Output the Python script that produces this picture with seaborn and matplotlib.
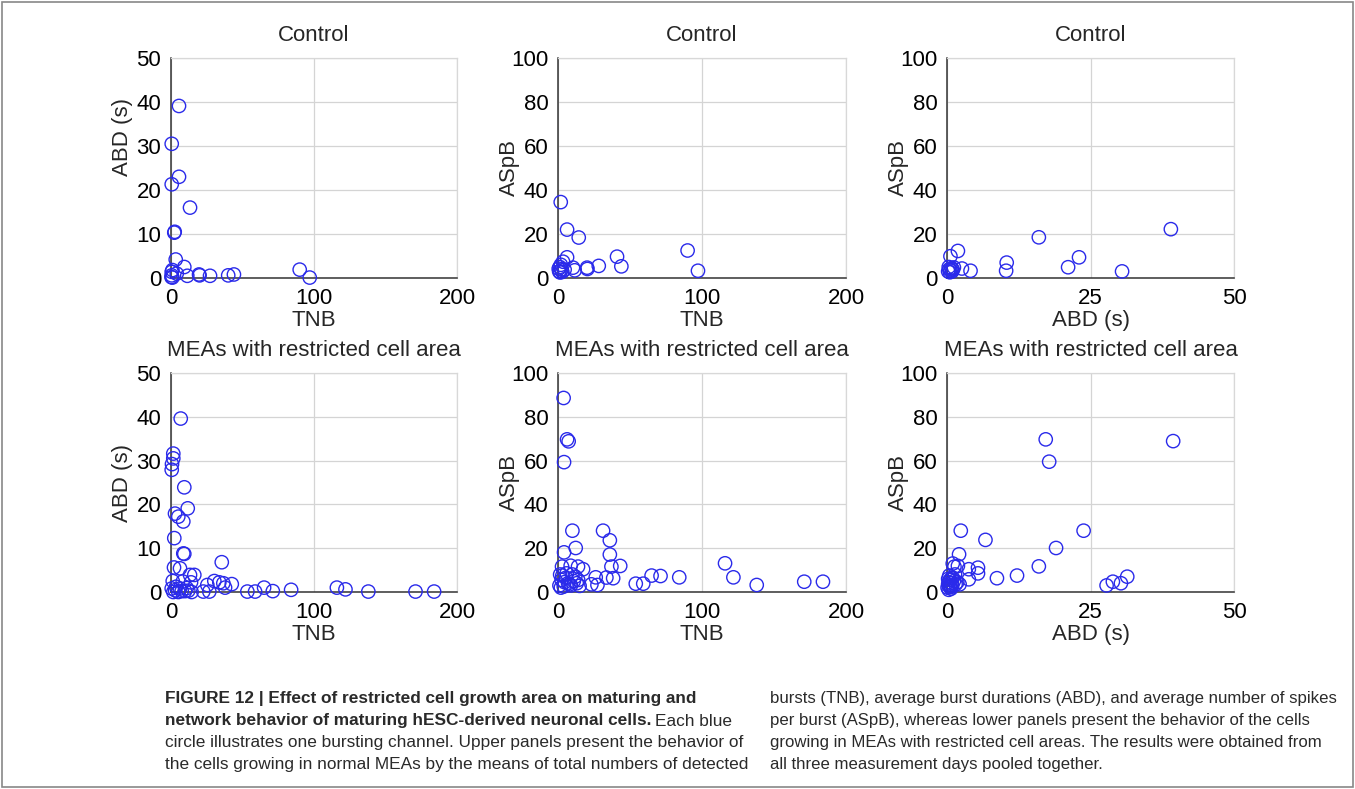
import matplotlib
matplotlib.use("Agg")
import matplotlib.pyplot as plt
import matplotlib.patches as mpatches
import seaborn as sns
import pandas as pd

# ---------------- data ----------------
# Control: TNB vs ABD
c_tnb_abd_x = [5.6, 0.5, 5.6, 0.5, 13.3, 2.3, 2.6, 3.3, 9.3, 0.5, 1.0, 4.0, 0.3, 1.0, 0.5,
               11.4, 19.6, 20.0, 27.3, 40.0, 44.0, 90.0, 97.0]
c_tnb_abd_y = [39.1, 30.5, 23.0, 21.3, 16.0, 10.3, 10.5, 4.2, 2.5, 1.4, 1.8, 1.0, 0.2, 0.1, 0.6,
               0.5, 0.8, 0.6, 0.5, 0.6, 0.8, 1.9, 0.1]
# Control: TNB vs ASpB
c_tnb_aspb_x = [1.9, 6.3, 14.4, 6.3, 3.5, 1.2, 2.3, 4.6, 10.4, 11.6, 20.2, 20.4, 28.3, 41.0,
                44.0, 90.0, 97.2, 0.8, 1.5, 3.0, 0.5, 2.0]
c_tnb_aspb_y = [34.5, 22.0, 18.4, 9.4, 7.4, 5.0, 3.8, 3.8, 4.7, 3.5, 4.7, 4.1, 5.5, 9.7,
                5.3, 12.5, 3.3, 3.0, 2.5, 2.8, 4.2, 6.0]
# Control: ABD vs ASpB
c_abd_aspb_x = [39.0, 16.0, 30.5, 23.0, 21.1, 10.4, 10.3, 1.9, 0.6, 2.6, 4.1, 0.2, 0.4, 0.6,
                0.8, 1.0, 0.3, 1.2, 0.5, 0.9]
c_abd_aspb_y = [22.2, 18.5, 3.0, 9.4, 4.9, 7.0, 3.3, 12.3, 9.9, 4.3, 3.3, 3.0, 4.0, 3.5,
                4.5, 3.8, 5.0, 4.8, 2.6, 3.0]

# Restricted: TNB vs ABD
r_tnb_abd_x = [6.8, 1.6, 1.6, 0.7, 0.5, 9.3, 11.7, 2.8, 5.1, 8.6, 2.3, 8.6, 9.3, 2.1, 6.3,
               35.5, 13.3, 16.3, 1.2, 8.2, 14.0, 30.3, 33.8, 36.6, 42.5, 25.4, 37.8, 22.6,
               26.8, 53.4, 58.8, 65.1, 71.2, 84.0, 116.0, 122.0, 138.0, 171.0, 184.0,
               0.5, 2.8, 5.1, 7.5, 9.8, 12.1, 14.4, 1.6, 6.3, 3.5, 11.0]
r_tnb_abd_y = [39.6, 31.6, 30.5, 29.2, 27.9, 23.9, 19.1, 17.9, 17.2, 16.1, 12.3, 8.8, 8.7,
               5.6, 5.4, 6.8, 3.9, 3.9, 2.5, 2.4, 2.2, 2.5, 2.2, 2.0, 1.8, 1.6, 1.0, 0.1,
               0.1, 0.1, 0.1, 1.0, 0.2, 0.5, 1.0, 0.6, 0.1, 0.1, 0.1,
               0.8, 0.4, 0.0, 0.2, 0.2, 0.3, 0.0, 0.0, 0.8, 1.2, 0.9]
# Restricted: TNB vs ASpB
r_tnb_aspb_x = [3.9, 6.3, 7.4, 4.2, 10.0, 31.3, 36.0, 4.2, 12.3, 36.0, 37.1, 43.2, 2.8, 8.8,
                13.9, 17.4, 33.6, 38.3, 26.2, 23.2, 27.4, 54.0, 59.2, 65.0, 71.2, 84.2,
                116.0, 121.8, 138.0, 171.0, 184.0,
                1.0, 2.5, 4.0, 5.5, 7.0, 9.0, 11.0, 13.0, 15.0, 1.5, 3.0, 6.0, 8.0, 12.0,
                2.0, 4.5, 10.0, 14.0]
r_tnb_aspb_y = [88.6, 69.7, 68.8, 59.3, 28.0, 28.0, 23.6, 18.1, 20.1, 17.1, 11.6, 11.9, 11.6,
                12.0, 11.6, 10.4, 6.6, 6.3, 6.7, 3.5, 3.2, 3.8, 3.8, 7.5, 7.3, 6.7,
                13.1, 6.7, 3.2, 4.7, 4.7,
                3.0, 5.5, 2.5, 6.5, 4.0, 3.0, 5.0, 4.0, 2.8, 8.0, 7.5, 8.5, 3.5, 7.0,
                2.0, 4.5, 8.0, 5.5]
# Restricted: ABD vs ASpB
r_abd_aspb_x = [39.4, 17.2, 17.8, 23.8, 2.4, 6.7, 19.0, 2.1, 16.0, 1.0, 1.3, 1.9, 3.8, 5.4,
                5.4, 3.8, 8.7, 12.2, 27.8, 28.9, 30.3, 31.4, 2.2, 0.8,
                0.1, 0.2, 0.3, 0.4, 0.5, 0.6, 0.8, 1.0, 1.2, 1.5, 0.2, 0.4, 0.7, 1.4, 1.8,
                0.3, 0.6, 0.9]
r_abd_aspb_y = [68.9, 69.7, 59.5, 28.0, 28.0, 23.8, 20.1, 17.2, 11.7, 13.0, 11.6, 11.9, 10.4,
                11.1, 8.5, 5.8, 6.3, 7.5, 3.0, 4.7, 4.0, 7.0, 3.5, 6.3,
                2.0, 3.5, 4.5, 2.5, 5.5, 3.0, 4.0, 6.5, 5.0, 3.5, 6.0, 7.5, 1.5, 8.0, 4.5,
                1.0, 2.2, 3.0]

titles = ["Control", "Control", "Control",
          "MEAs with restricted cell area", "MEAs with restricted cell area",
          "MEAs with restricted cell area"]
x_labels = ["TNB", "TNB", "ABD (s)", "TNB", "TNB", "ABD (s)"]
y_labels = ["ABD (s)", "ASpB", "ASpB", "ABD (s)", "ASpB", "ASpB"]

# ---------------- style ----------------
sns.set_theme(style="white")
plt.rcParams["font.family"] = ["Liberation Sans", "DejaVu Sans"]

W, H = 1355, 789
fig = plt.figure(figsize=(W / 100, H / 100), dpi=100)

panel_data = [
    (c_tnb_abd_x, c_tnb_abd_y), (c_tnb_aspb_x, c_tnb_aspb_y), (c_abd_aspb_x, c_abd_aspb_y),
    (r_tnb_abd_x, r_tnb_abd_y), (r_tnb_aspb_x, r_tnb_aspb_y), (r_abd_aspb_x, r_abd_aspb_y),
]
lefts = [171, 558, 947]
widths = [286, 288, 287]
tops = [58, 373]
bottoms = [278, 592]
ylabel_y = [0.64, 0.5, 0.5, 0.5, 0.5, 0.5]

for i, (xs, ys) in enumerate(panel_data):
    row, col = divmod(i, 3)
    l = lefts[col] / W
    w = widths[col] / W
    b = 1 - bottoms[row] / H
    h = (bottoms[row] - tops[row]) / H
    ax = fig.add_axes([l, b, w, h])
    df = pd.DataFrame({"x": xs, "y": ys})
    sns.scatterplot(data=df, x="x", y="y", ax=ax, marker="o", s=92,
                    facecolors="none", edgecolor="#2a2aea", linewidth=1.0,
                    zorder=3, clip_on=False)
    if x_labels[i] == "TNB":
        ax.set_xlim(0, 200)
        ax.set_xticks([0, 100, 200])
    else:
        ax.set_xlim(0, 50)
        ax.set_xticks([0, 25, 50])
    if y_labels[i] == "ABD (s)":
        ax.set_ylim(0, 50)
        ax.set_yticks([0, 10, 20, 30, 40, 50])
    else:
        ax.set_ylim(0, 100)
        ax.set_yticks([0, 20, 40, 60, 80, 100])
    ax.grid(True, color="#d4d4d4", linewidth=0.9)
    ax.set_axisbelow(True)
    for sp in ax.spines.values():
        sp.set_visible(True)
        sp.set_color("#d8d8d8")
        sp.set_linewidth(0.9)
    ax.spines["left"].set_color("#333333")
    ax.spines["bottom"].set_color("#333333")
    ax.spines["left"].set_linewidth(1.1)
    ax.spines["bottom"].set_linewidth(1.1)
    ax.tick_params(axis="x", labelsize=16, colors="black", length=0, pad=7.5)
    ax.tick_params(axis="y", labelsize=16, colors="black", length=0, pad=7)
    ax.set_xlabel(x_labels[i], fontsize=16, labelpad=0.5)
    ax.set_ylabel(y_labels[i], fontsize=16)
    ax.yaxis.set_label_coords(-0.132, ylabel_y[i])
    ax.set_title(titles[i], fontsize=16, pad=12.5)

# frame around whole figure
fig.patches.append(mpatches.Rectangle((0.0015, 0.002), 0.997, 0.996, transform=fig.transFigure,
                                      fill=False, edgecolor="#888888", linewidth=1.2))

# caption
cap_font = ["Liberation Sans Narrow", "Liberation Sans", "DejaVu Sans"]
renderer = fig.canvas.get_renderer()

def put(x_px, y_px, s, size, weight="normal"):
    t = fig.text(x_px / W, 1 - y_px / H, s, fontsize=size, family=cap_font,
                 weight=weight, va="center", ha="left", color="#2a2a2a")
    return t

line_y = [699, 721, 743, 765]
s1, s2 = 12.4, 12.1
put(165, line_y[0], "FIGURE 12 | Effect of restricted cell growth area on maturing and", s1, "bold")
t = put(165, line_y[1], "network behavior of maturing hESC-derived neuronal cells.", s1, "bold")
bb = t.get_window_extent(renderer)
put(bb.x1 + 4, line_y[1], "Each blue", s1)
put(165, line_y[2], "circle illustrates one bursting channel. Upper panels present the behavior of", s1)
put(165, line_y[3], "the cells growing in normal MEAs by the means of total numbers of detected", s1)
put(770, line_y[0], "bursts (TNB), average burst durations (ABD), and average number of spikes", s2)
put(770, line_y[1], "per burst (ASpB), whereas lower panels present the behavior of the cells", s2)
put(770, line_y[2], "growing in MEAs with restricted cell areas. The results were obtained from", s2)
put(770, line_y[3], "all three measurement days pooled together.", s2)

fig.savefig("out.png", dpi=100)
